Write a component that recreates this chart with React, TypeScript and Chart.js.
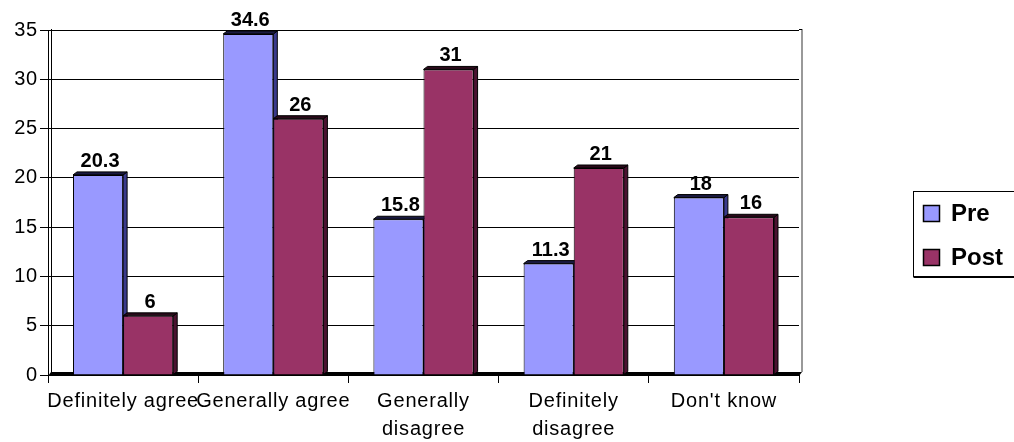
import React, { useEffect, useRef } from "react";
import { Chart, registerables } from "chart.js";

Chart.register(...registerables);

const categories: (string | string[])[] = [
  "Definitely agree",
  "Generally agree",
  ["Generally", "disagree"],
  ["Definitely", "disagree"],
  "Don't know",
];
const seriesNames = ["Pre", "Post"];
const preValues = [20.3, 34.6, 15.8, 11.3, 18];
const postValues = [6, 26, 31, 21, 16];
const yMin = 0;
const yMax = 35;
const yStep = 5;

const faceColors = ["#9999FF", "#993366"];
const sideColors = ["#3a3a8c", "#4a1230"];
const topColors = ["#1a1a40", "#2a0a1a"];
const FONT = "'Liberation Sans', Arial, sans-serif";

const threeD = {
  id: "threeD",
  beforeDraw(chart: any) {
    chart.ctx.letterSpacing = "0.8px";
  },
  beforeDatasetsDraw(chart: any) {
    const ctx = chart.ctx;
    const { left, right, bottom } = chart.chartArea;
    const d = 4;
    const h = 3;
    ctx.save();
    ctx.fillStyle = "#000";
    ctx.beginPath();
    ctx.moveTo(left, bottom + 1);
    ctx.lineTo(left + h, bottom - h);
    ctx.lineTo(right + h, bottom - h);
    ctx.lineTo(right, bottom + 1);
    ctx.closePath();
    ctx.fill();
    ctx.lineWidth = 1;
    ctx.strokeStyle = "#000";
    chart.data.datasets.forEach((_ds: any, di: number) => {
      const meta = chart.getDatasetMeta(di);
      meta.data.forEach((bar: any) => {
        const { x, y, base, width } = bar.getProps(["x", "y", "base", "width"], true);
        const xl = x - width / 2;
        const xr = x + width / 2;
        ctx.fillStyle = sideColors[di];
        ctx.beginPath();
        ctx.moveTo(xr, y);
        ctx.lineTo(xr + d, y - h);
        ctx.lineTo(xr + d, base - h);
        ctx.lineTo(xr, base);
        ctx.closePath();
        ctx.fill();
        ctx.stroke();
        ctx.fillStyle = topColors[di];
        ctx.beginPath();
        ctx.moveTo(xl, y);
        ctx.lineTo(xl + d, y - h);
        ctx.lineTo(xr + d, y - h);
        ctx.lineTo(xr, y);
        ctx.closePath();
        ctx.fill();
        ctx.stroke();
      });
    });
    ctx.restore();
  },
  afterDatasetsDraw(chart: any) {
    const ctx = chart.ctx;
    ctx.save();
    ctx.letterSpacing = "0px";
    ctx.font = `bold 20px ${FONT}`;
    ctx.fillStyle = "#000";
    ctx.textAlign = "center";
    ctx.textBaseline = "alphabetic";
    chart.data.datasets.forEach((ds: any, di: number) => {
      const meta = chart.getDatasetMeta(di);
      meta.data.forEach((bar: any, i: number) => {
        const { x, y } = bar.getProps(["x", "y"], true);
        ctx.fillText(String(ds.data[i]), x + 2, y - 8);
      });
    });
    ctx.restore();
  },
  afterDraw(chart: any) {
    const ctx = chart.ctx;
    const { left, right, top, bottom } = chart.chartArea;
    ctx.save();
    ctx.letterSpacing = "0px";
    // back wall lines
    ctx.strokeStyle = "#000";
    ctx.lineWidth = 1;
    ctx.beginPath();
    ctx.moveTo(left + 3.5, top - 1);
    ctx.lineTo(left + 3.5, bottom - 3);
    ctx.stroke();
    ctx.strokeStyle = "#777";
    ctx.lineWidth = 1.5;
    ctx.beginPath();
    ctx.moveTo(right + 3, top - 1);
    ctx.lineTo(right + 3, bottom - 3);
    ctx.stroke();
    ctx.beginPath();
    ctx.moveTo(right, top - 0.5);
    ctx.lineTo(right + 3, top - 0.5);
    ctx.strokeStyle = "#000";
    ctx.lineWidth = 1;
    ctx.stroke();

    // legend
    const bx = 913.5;
    const by = 191.5;
    const bw = 120;
    const bh = 85;
    ctx.fillStyle = "#fff";
    ctx.fillRect(bx, by, bw, bh);
    ctx.strokeStyle = "#000";
    ctx.lineWidth = 1;
    ctx.strokeRect(bx, by, bw, bh);
    ctx.lineWidth = 2;
    ctx.beginPath();
    ctx.moveTo(bx, by + bh + 0.5);
    ctx.lineTo(bx + bw, by + bh + 0.5);
    ctx.stroke();
    ctx.font = `bold 24px ${FONT}`;
    ctx.textAlign = "left";
    ctx.textBaseline = "middle";
    const rows = [213.5, 257.5];
    chart.data.datasets.forEach((ds: any, di: number) => {
      const cy = rows[di];
      ctx.fillStyle = faceColors[di];
      ctx.fillRect(923.5, cy - 8, 16, 16);
      ctx.lineWidth = 1.5;
      ctx.strokeStyle = "#000";
      ctx.strokeRect(923.5, cy - 8, 16, 16);
      ctx.fillStyle = "#000";
      ctx.fillText(ds.label, 951, cy + 1);
    });
    ctx.restore();
  },
};

export default function App() {
  const ref = useRef<HTMLCanvasElement>(null);
  useEffect(() => {
    if (!ref.current) return;
    const chart = new Chart(ref.current, {
      type: "bar",
      data: {
        labels: categories,
        datasets: [
          {
            label: seriesNames[0],
            data: preValues,
            backgroundColor: faceColors[0],
            borderColor: "#000",
            borderWidth: 1,
            categoryPercentage: 0.667,
            barPercentage: 1,
          },
          {
            label: seriesNames[1],
            data: postValues,
            backgroundColor: faceColors[1],
            borderColor: "#000",
            borderWidth: 1,
            categoryPercentage: 0.667,
            barPercentage: 1,
          },
        ],
      },
      options: {
        responsive: false,
        animation: false,
        layout: { padding: { top: 30, right: 215, left: 0, bottom: 0 } },
        plugins: {
          legend: { display: false },
          tooltip: { enabled: false },
          title: { display: false },
        },
        scales: {
          x: {
            grid: {
              drawOnChartArea: false,
              drawTicks: true,
              tickLength: 8,
              color: "#000",
              lineWidth: 1,
            },
            border: { display: true, color: "#000", width: 1 },
            ticks: {
              color: "#000",
              font: { family: FONT, size: 20, lineHeight: 1.4 },
              padding: 4,
              maxRotation: 0,
              autoSkip: false,
            },
            afterFit: (scale: any) => {
              scale.height = 67;
            },
          },
          y: {
            min: yMin,
            max: yMax,
            grid: {
              color: "#000",
              lineWidth: 1,
              tickLength: 8,
              tickColor: "#000",
            },
            border: { display: true, color: "#000", width: 1 },
            ticks: {
              stepSize: yStep,
              color: "#000",
              font: { family: FONT, size: 20 },
              padding: 2,
            },
            afterFit: (scale: any) => {
              scale.width = 48;
            },
          },
        },
      },
      plugins: [threeD],
    });
    return () => chart.destroy();
  }, []);
  return (
    <div style={{ position: "fixed", left: 0, top: 0, width: 1014, height: 442, background: "#fff" }}>
      <canvas ref={ref} width={1014} height={442} />
    </div>
  );
}
